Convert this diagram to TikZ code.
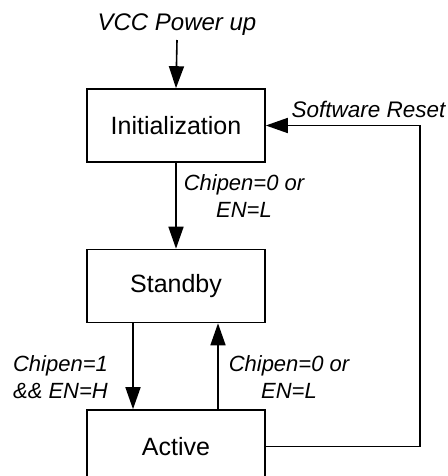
\documentclass[tikz,border=0pt]{standalone}
\usepackage{fontspec}
\setmainfont{Liberation Sans}
\usetikzlibrary{arrows.meta,positioning}

\begin{document}
\begin{tikzpicture}[x=1pt,y=-1pt, line width=1.6pt,
  state/.style={draw, minimum width=178pt, minimum height=73pt, font=\fontsize{25}{30}\selectfont},
  cond/.style={font=\fontsize{22}{27}\selectfont\itshape, align=center},
  >={Triangle[length=22pt,width=15pt]}]
\useasboundingbox (0,0) rectangle (447,476);
\node[state] (init) at (176,125.5) {Initialization};
\node[state] (standby) at (176,286) {Standby};
\node[state] (active) at (176,446.5) {Active};
\node[cond, font=\fontsize{24}{29}\selectfont\itshape] (vcc) at (177,25) {VCC Power up};
\node[cond] (offa) at (244,196) {Chipen=0 or\\EN=L};
\node[cond, align=left] (on) at (60.5,377) {Chipen=1\\\&\& EN=H};
\node[cond] (offb) at (289,377) {Chipen=0 or\\EN=L};
\node[cond, font=\fontsize{22.5}{27}\selectfont\itshape] (reset) at (368.5,109) {Software Reset};
\draw[->] (vcc.south) -- (init.north);
\draw[->] (init.south) -- (standby.north);
\draw[->] ([xshift=-43pt]standby.south) -- ([xshift=-43pt]active.north);
\draw[->] ([xshift=42pt]active.north) -- ([xshift=42pt]standby.south);
\coordinate (turn) at (420,446.5);
\draw[->] (active.east) -- (turn) |- (init.east);
\end{tikzpicture}
\end{document}
